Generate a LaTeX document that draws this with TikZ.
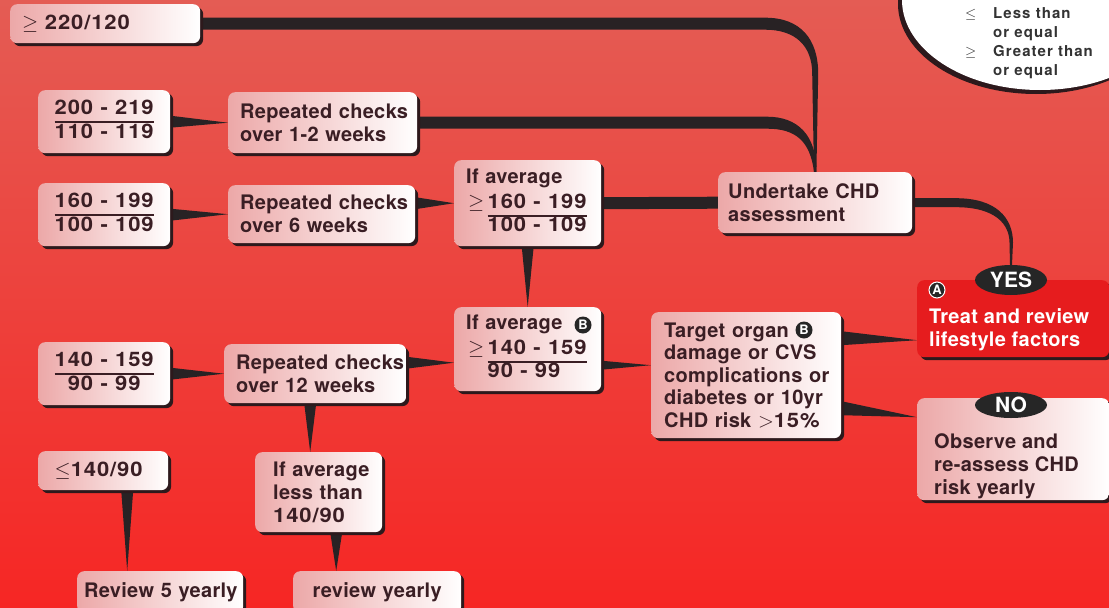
\documentclass[tikz,border=0pt]{standalone}
\usepackage{fontspec}
\usepackage{graphicx}
\setmainfont{TeX Gyre Heros}
\usetikzlibrary{calc,shadows,shapes.geometric}
\pgfdeclarelayer{back}\pgfdeclarelayer{links}
\pgfsetlayers{back,links,main}
\definecolor{bgtop}{RGB}{228,92,84}
\definecolor{bgmid}{RGB}{238,62,54}
\definecolor{bgbot}{RGB}{246,38,36}
\definecolor{boxpink}{RGB}{236,168,168}
\definecolor{ink}{RGB}{58,30,36}
\definecolor{linkc}{RGB}{40,34,36}
\definecolor{shad}{RGB}{45,25,28}
\definecolor{yesred}{RGB}{230,28,30}
\setlength{\arrayrulewidth}{1.6pt}
\newcommand\nm[1]{\scalebox{1.1}[1]{\addfontfeature{LetterSpace=4}#1}}
\newcommand\fr[2]{\begin{tabular}{@{}c@{}}#1\\\hline #2\end{tabular}}
\begin{document}
\begin{tikzpicture}[x=1pt,y=-1pt,
  bx/.style={anchor=north west, rounded corners=7pt, left color=boxpink, right color=white,
    drop shadow={shadow xshift=3pt, shadow yshift=-3pt, fill=shad, opacity=1},
    inner xsep=12pt, inner ysep=3pt, text=ink, align=left,
    font=\fontsize{20}{23}\selectfont\bfseries\addfontfeature{LetterSpace=1.5}},
  link/.style={fill=linkc, draw=none},
  circ/.style={circle, fill=black!85, text=white, inner sep=0pt, minimum size=17pt,
    font=\fontsize{13}{13}\selectfont\bfseries},
  lbl/.style={ellipse, fill=black!85, text=white, inner sep=0pt, minimum width=72pt,
    font=\fontsize{21}{21}\selectfont\bfseries},
  wtxt/.style={anchor=west, inner xsep=0pt, align=left, text=white,
    font=\fontsize{20}{23}\selectfont\bfseries\addfontfeature{LetterSpace=1.5}}
]
\useasboundingbox (0,0) rectangle (1109,608);
\begin{pgfonlayer}{back}
\shade[top color=bgtop, middle color=bgmid, bottom color=bgbot] (0,0) rectangle (1109,608);
\end{pgfonlayer}

% legend
\fill[shad] (1036,4) ellipse [x radius=138pt, y radius=90pt];
\fill[white] (1040,0) ellipse [x radius=138pt, y radius=90pt];
\node[anchor=north west, inner sep=0pt, align=left, text=black!80,
  font=\fontsize{15}{19}\selectfont\bfseries\addfontfeature{LetterSpace=7}] (legend) at (965,7)
  {\makebox[28pt][l]{$\leq$}Less~than\\\hspace*{28pt}or~equal\\\makebox[28pt][l]{$\geq$}Greater~than\\\hspace*{28pt}or~equal};

% boxes
\node[bx, minimum width=190pt, minimum height=39pt, text width=166pt] (t220) at (10,4) {$\geq$ \nm{220/120}};
\node[bx, minimum width=132pt, minimum height=63pt, text width=108pt, align=center] (f200) at (38,90) {\nm{\fr{200 - 219}{110 - 119}}};
\node[bx, minimum width=189pt, minimum height=61pt, text width=165pt] (r12) at (228,92) {Repeated~checks\\over~1-2~weeks};
\node[bx, minimum width=132pt, minimum height=63pt, text width=108pt, align=center] (f160) at (38,183) {\nm{\fr{160 - 199}{100 - 109}}};
\node[bx, minimum width=187pt, minimum height=58pt, text width=163pt] (r6) at (228,185) {Repeated~checks\\over~6~weeks};
\node[bx, minimum width=147pt, minimum height=86pt, text width=123pt, inner xsep=12pt] (avg160) at (454,160)
  {If~average\\[2pt]\hspace*{2pt}\begin{tabular}[t]{@{}r@{\,}l@{}}$\geq$&\nm{160 - 199}\\\cline{2-2}&\nm{100 - 109}\end{tabular}\\[21pt]};
\node[bx, minimum width=194pt, minimum height=61pt, text width=174pt, inner xsep=10pt] (chd) at (718,172) {Undertake~CHD\\assessment};
\node[bx, minimum width=147pt, minimum height=84pt, text width=123pt] (avg140) at (454,307)
  {If~average\\[2pt]\hspace*{2pt}\begin{tabular}[t]{@{}r@{\,}l@{}}$\geq$&\nm{140 - 159}\\\cline{2-2}&\nm{90 - 99}\end{tabular}\\[21pt]};
\node[bx, minimum width=190pt, minimum height=126pt, text width=164pt, inner xsep=13pt,
  font=\fontsize{20}{22.5}\selectfont\bfseries\addfontfeature{LetterSpace=1.5}] (tgt) at (651,312)
  {Target~organ\\damage~or~CVS\\complications~or\\diabetes~or~10yr\\CHD~risk~$>$\nm{15\%}};
\node[anchor=north west, rounded corners=7pt, fill=yesred, minimum width=192pt, minimum height=77pt,
  drop shadow={shadow xshift=3pt, shadow yshift=-3pt, fill=shad, opacity=1}] (yesbox) at (917,280) {};
\node[wtxt] (yestxt) at (929,330) {Treat~and~review\\lifestyle~factors};
\node[bx, minimum width=192pt, minimum height=102pt, text width=168pt] (nobox) at (917,398) {};
\node[wtxt, text=ink] (notxt) at (934,466) {Observe~and\\re-assess~CHD\\risk~yearly};
\node[lbl, minimum height=30pt] (yeslbl) at (1011,280) {YES};
\node[lbl, minimum height=26pt] (nolbl) at (1011,405) {NO};
\node[circ, draw=white, line width=1pt, minimum size=16pt] (circA) at (937,290) {A};
\node[bx, minimum width=132pt, minimum height=63pt, text width=108pt, align=center] (f140) at (38,342) {\nm{\fr{140 - 159}{90 - 99}}};
\node[bx, minimum width=182pt, minimum height=59pt, text width=158pt] (r12w) at (224,344) {Repeated~checks\\over~12~weeks};
\node[bx, minimum width=130pt, minimum height=39pt, text width=113pt, inner xsep=8.5pt] (le140) at (38,451) {\hspace*{8pt}$\leq$\nm{140/90}};
\node[bx, minimum width=127pt, minimum height=80pt, text width=109pt, inner xsep=9pt] (avgless) at (255,452) {\hspace*{9pt}If~average\\\hspace*{9pt}less~than\\\hspace*{9pt}\nm{140/90}};
\node[bx, minimum width=166pt, minimum height=42pt, text width=156pt, inner xsep=5pt] (rev5) at (77,571) {\hspace*{2pt}Review~5~yearly};
\node[bx, minimum width=168pt, minimum height=42pt, text width=148pt, inner xsep=10pt, align=center] (revy) at (293,571) {review~yearly};
\node[circ] (circB1) at (583,325) {B};
\node[circ] (circB2) at (804,330) {B};

% connectors
\begin{pgfonlayer}{links}
\fill[link] ($(f200.east)+(0,-6)$) -- (r12.west) -- ($(f200.east)+(0,6)$) -- cycle;
\fill[link] ($(f160.east)+(0,-6)$) -- (r6.west) -- ($(f160.east)+(0,6)$) -- cycle;
\coordinate (p3) at (r6.east |- avg160.west);
\fill[link] ($(p3)+(0,-6)$) -- (avg160.west) -- ($(p3)+(0,6)$) -- cycle;
\draw[linkc, line width=12pt] (avg160.east) -- (chd.west);
\fill[link] ($(avg160.south)+(-6,0)$) -- (avg140.north) -- ($(avg160.south)+(6,0)$) -- cycle;
\fill[link] ($(f140.east)+(0,-6)$) -- (r12w.west) -- ($(f140.east)+(0,6)$) -- cycle;
\coordinate (p7) at ($(r12w.east)+(0,-11)$);
\fill[link] ($(p7)+(0,-6)$) -- (avg140.west |- p7) -- ($(p7)+(0,6)$) -- cycle;
\coordinate (p8) at ($(avg140.east)+(0,16)$);
\fill[link] ($(p8)+(0,-4.5)$) -- (tgt.west |- p8) -- ($(p8)+(0,4.5)$) -- cycle;
\coordinate (p9) at ($(r12w.south)+(-5,0)$);
\fill[link] ($(p9)+(-6,0)$) -- (p9 |- avgless.north) -- ($(p9)+(6,0)$) -- cycle;
\coordinate (p10) at ($(le140.south)+(24,0)$);
\fill[link] ($(p10)+(-6,0)$) -- (p10 |- rev5.north) -- ($(p10)+(6,0)$) -- cycle;
\coordinate (p11) at ($(avgless.south)+(17.5,0)$);
\fill[link] ($(p11)+(-6,0)$) -- (p11 |- revy.north) -- ($(p11)+(6,0)$) -- cycle;
\coordinate (p12) at ($(tgt.east)+(0,-37)$);
\fill[link] ($(p12)+(0,-7)$) -- ($(yesbox.west |- p12)+(0,2)$) -- ($(p12)+(0,7)$) -- cycle;
\coordinate (p13) at ($(tgt.east)+(0,33)$);
\fill[link] ($(p13)+(0,-7)$) -- ($(nobox.west |- p13)+(0,9)$) -- ($(p13)+(0,7)$) -- cycle;
% curved connectors
\coordinate (k1) at (chd.north |- t220.east);
\fill[link] ($(t220.east)+(0,-6)$) -- ($(k1)+(-50,-6)$) .. controls ($(k1)+(-15,-6)$) and ($(k1)+(3,15)$) .. ($(k1)+(3,50)$)
  -- ($(chd.north)+(1.2,0)$) -- ($(chd.north)+(-1.2,0)$) -- ($(k1)+(-3,50)$)
  .. controls ($(k1)+(-3,22)$) and ($(k1)+(-20,6)$) .. ($(k1)+(-50,6)$) -- ($(t220.east)+(0,6)$) -- cycle;
\coordinate (k2) at (chd.north |- r12.east);
\fill[link] ($(r12.east)+(0,-6)$) -- ($(k2)+(-48,-6)$) .. controls ($(k2)+(-18,-6)$) and ($(k2)+(1.5,12)$) .. ($(chd.north)+(1.2,0)$)
  -- ($(chd.north)+(-1.2,0)$) .. controls ($(k2)+(-5,18)$) and ($(k2)+(-20,6)$) .. ($(k2)+(-48,6)$) -- ($(r12.east)+(0,6)$) -- cycle;
\coordinate (k3) at (yeslbl.north |- chd.east);
\fill[link] ($(chd.east)+(0,-4.5)$) -- ($(k3)+(-55,-4.5)$) .. controls ($(k3)+(-15,-4.5)$) and ($(k3)+(2,15)$) .. ($(k3)+(2,40)$)
  -- ($(yeslbl.north)+(1,0)$) -- ($(yeslbl.north)+(-1,0)$) -- ($(k3)+(-1.5,40)$)
  .. controls ($(k3)+(-1.5,22)$) and ($(k3)+(-15,4.5)$) .. ($(k3)+(-55,4.5)$) -- ($(chd.east)+(0,4.5)$) -- cycle;
\end{pgfonlayer}
\end{tikzpicture}
\end{document}
